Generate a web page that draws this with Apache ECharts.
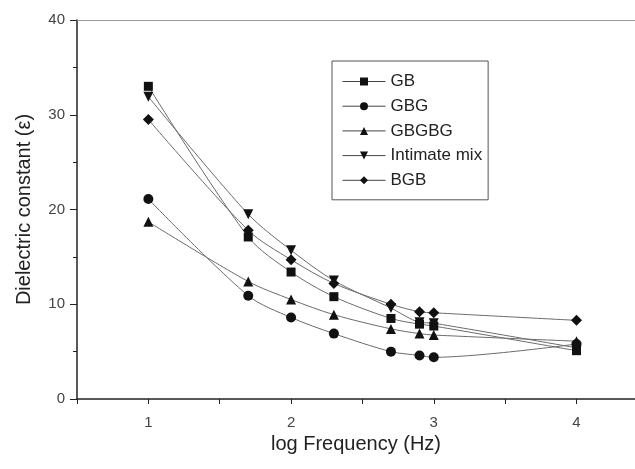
<!DOCTYPE html>
<html>
<head>
<meta charset="utf-8">
<script src="https://cdn.jsdelivr.net/npm/echarts@6/dist/echarts.min.js"></script>
<style>html,body{margin:0;padding:0;background:#fff}#c{width:635px;height:469px}</style>
</head>
<body>
<div id="c"></div>
<script>
const logFreq = [1, 1.7, 2, 2.3, 2.7, 2.9, 3, 4];
const seriesNames = ['GB', 'GBG', 'GBGBG', 'Intimate mix', 'BGB'];
const GB = [33.0, 17.1, 13.4, 10.8, 8.5, 7.9, 7.7, 5.1];
const GBG = [21.1, 10.9, 8.6, 6.9, 5.0, 4.6, 4.4, 5.8];
const GBGBG = [18.7, 12.4, 10.5, 8.9, 7.4, 6.9, 6.75, 6.1];
const IntimateMix = [31.9, 19.5, 15.7, 12.5, 9.6, 8.1, 8.0, 5.4];
const BGB = [29.5, 17.8, 14.7, 12.2, 10.0, 9.2, 9.1, 8.3];
const yTicks = [0, 10, 20, 30, 40];
const xTicks = [1, 2, 3, 4];

const values = [GB, GBG, GBGBG, IntimateMix, BGB];
const symbols = ['rect', 'circle', 'triangle', 'triangle', 'diamond'];
const rotations = [0, 0, 0, 180, 0];
const sizes = [9, 10, 10, 10, 11];

const chart = echarts.init(document.getElementById('c'), null, {renderer: 'canvas'});
const series = seriesNames.map((n, i) => ({
  name: n,
  type: 'line',
  smooth: 0.3,
  data: logFreq.map((x, j) => [x, values[i][j]]),
  symbol: symbols[i],
  symbolRotate: rotations[i],
  symbolSize: sizes[i],
  showAllSymbol: true,
  lineStyle: {color: '#6a6a6a', width: 1},
  itemStyle: {color: '#111', borderWidth: 0},
  emphasis: {disabled: true},
  animation: false
}));

const X_MIN = 0.5, X_MAX = 4.41;

chart.setOption({
  animation: false,
  grid: {left: 77, top: 20, bottom: 70, right: 0},
  legend: {
    left: 332, top: 61,
    orient: 'vertical',
    data: seriesNames,
    itemWidth: 43, itemHeight: 10, itemGap: 7.7,
    padding: [12, 6, 11, 10],
    borderColor: '#555', borderWidth: 1,
    textStyle: {fontFamily: 'Liberation Sans, Arial, sans-serif', fontSize: 17, color: '#222'},
    itemStyle: {color: '#111'},
    lineStyle: {color: '#444', width: 1}
  },
  xAxis: [{
    type: 'value', min: X_MIN, max: X_MAX, interval: 0.5,
    name: 'log Frequency (Hz)', nameLocation: 'middle', nameGap: 32,
    nameTextStyle: {fontFamily: 'Liberation Sans, Arial, sans-serif', fontSize: 20, color: '#222'},
    axisLine: {lineStyle: {color: '#222', width: 1.5}},
    axisTick: {inside: false, length: 5, lineStyle: {color: '#222'}},
    axisLabel: {margin: 16, fontFamily: 'Liberation Sans, Arial, sans-serif', fontSize: 15, color: '#444',
      showMaxLabel: false,
      formatter: v => xTicks.includes(v) ? String(v) : ''},
    splitLine: {show: false}
  }, {
    type: 'value', position: 'top', min: X_MIN, max: X_MAX, interval: 0.5,
    axisLine: {show: true, lineStyle: {color: '#999', width: 1}},
    axisTick: {show: false}, axisLabel: {show: false}, splitLine: {show: false}
  }],
  yAxis: {
    type: 'value', min: 0, max: 40, interval: 10,
    name: 'Dielectric constant (ε)', nameLocation: 'middle', nameGap: 43,
    nameTextStyle: {fontFamily: 'Liberation Sans, Arial, sans-serif', fontSize: 20, color: '#222'},
    axisLine: {show: true, lineStyle: {color: '#222', width: 1.5}},
    axisTick: {show: true, inside: false, length: 7, lineStyle: {color: '#222'}},
    minorTick: {show: true, splitNumber: 2, length: 4, lineStyle: {color: '#222'}},
    axisLabel: {margin: 12, fontFamily: 'Liberation Sans, Arial, sans-serif', fontSize: 15, color: '#444',
      formatter: v => yTicks.includes(v) ? String(v) : ''},
    splitLine: {show: false}
  },
  series: series
});
</script>
</body>
</html>
